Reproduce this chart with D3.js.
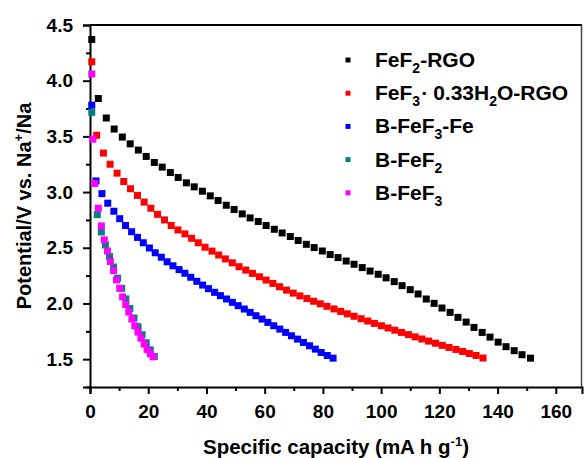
<!DOCTYPE html>
<html>
<head>
<meta charset="utf-8">
<script src="https://cdn.jsdelivr.net/npm/d3@7"></script>
<style>
	body { margin: 0; background: #fff; }
	svg { display: block; font-family: "Liberation Sans", Arial, sans-serif; font-weight: bold; }
</style>
</head>
<body>
<div id="chart"></div>
<script>
// capacity (mA h g-1) and potential (V)
const capFeF2RGO = [0.6, 2.85, 5.6, 8.3, 11.1, 13.8, 16.6, 19.3, 22.1, 24.8, 27.6, 30.3, 33.1, 35.8, 38.6, 41.3, 44.0, 46.8, 49.5, 52.3,
	55.0, 57.8, 60.5, 63.3, 66.0, 68.8, 71.5, 74.3, 77.0, 79.8, 82.5, 85.2, 88.0, 90.7, 93.5, 96.2, 99.0, 101.7, 104.5, 107.2,
	110.0, 112.7, 115.5, 118.2, 120.9, 123.7, 126.4, 129.2, 131.9, 134.7, 137.4, 140.2, 142.9, 145.7, 148.4, 151.3];
const volFeF2RGO = [4.37, 3.84, 3.665, 3.566, 3.494, 3.433, 3.377, 3.32, 3.266, 3.224, 3.176, 3.131, 3.083, 3.047, 3.008, 2.966, 2.924, 2.882, 2.844, 2.804,
	2.768, 2.736, 2.70, 2.666, 2.633, 2.601, 2.565, 2.531, 2.502, 2.471, 2.439, 2.412, 2.381, 2.352, 2.322, 2.291, 2.262, 2.23, 2.196, 2.16,
	2.124, 2.085, 2.04, 2.001, 1.959, 1.92, 1.875, 1.833, 1.785, 1.74, 1.698, 1.653, 1.612, 1.576, 1.54, 1.509];

const capFeF3RGO = [0.6, 2.3, 4.6, 6.9, 9.3, 11.6, 13.9, 16.3, 18.6, 20.9, 23.2, 25.6, 27.9, 30.2, 32.6, 34.9, 37.2, 39.5, 41.9, 44.2,
	46.5, 48.9, 51.2, 53.5, 55.8, 58.2, 60.5, 62.8, 65.1, 67.5, 69.8, 72.1, 74.5, 76.8, 79.1, 81.4, 83.8, 86.1, 88.4, 90.7,
	93.1, 95.4, 97.7, 100.1, 102.4, 104.7, 107.0, 109.4, 111.7, 114.0, 116.3, 118.7, 121.0, 123.3, 125.7, 128.0, 130.3, 132.6, 135.0];
const volFeF3RGO = [4.17, 3.51, 3.35, 3.25, 3.17, 3.095, 3.03, 2.97, 2.91, 2.855, 2.80, 2.75, 2.70, 2.66, 2.625, 2.585, 2.545, 2.505, 2.47, 2.435,
	2.40, 2.365, 2.33, 2.30, 2.27, 2.24, 2.21, 2.18, 2.15, 2.12, 2.093, 2.068, 2.044, 2.02, 1.997, 1.974, 1.951, 1.929, 1.907, 1.885,
	1.863, 1.842, 1.821, 1.80, 1.78, 1.76, 1.74, 1.72, 1.70, 1.681, 1.662, 1.643, 1.624, 1.605, 1.587, 1.569, 1.551, 1.533, 1.51];

const capBFeF3Fe = [0.6, 2.06, 4.1, 6.1, 8.2, 10.2, 12.2, 14.3, 16.3, 18.3, 20.4, 22.4, 24.5, 26.5, 28.5, 30.6, 32.6, 34.6, 36.7, 38.7, 40.7,
	42.8, 44.8, 46.9, 48.9, 50.9, 53.0, 55.0, 57.0, 59.1, 61.1, 63.1, 65.2, 67.2, 69.2, 71.3, 73.3, 75.4, 77.4, 79.4, 81.5, 83.5];
const volBFeF3Fe = [3.78, 3.10, 2.986, 2.90, 2.828, 2.761, 2.70, 2.644, 2.593, 2.545, 2.498, 2.455, 2.415, 2.374, 2.338, 2.304, 2.271, 2.235, 2.199, 2.165, 2.133,
	2.10, 2.07, 2.04, 2.01, 1.98, 1.95, 1.92, 1.89, 1.86, 1.83, 1.80, 1.77, 1.74, 1.71, 1.68, 1.65, 1.62, 1.59, 1.56, 1.533, 1.509];

const capBFeF2 = [0.6, 2.5, 3.9, 5.3, 6.7, 8.1, 9.5, 10.9, 12.3, 13.7, 15.1, 16.5, 17.9, 19.3, 20.7, 22.1];
const volBFeF2 = [3.716, 2.797, 2.642, 2.525, 2.422, 2.327, 2.227, 2.136, 2.041, 1.954, 1.87, 1.791, 1.719, 1.647, 1.583, 1.524];

const capBFeF3 = [0.6, 1.0, 1.6, 2.85, 3.9, 4.9, 6.0, 7.0, 8.1, 9.1, 10.2, 11.2, 12.3, 13.3, 14.4, 15.4, 16.5, 17.5, 18.6, 19.6, 20.7, 21.7];
const volBFeF3 = [4.06, 3.475, 3.077, 2.855, 2.696, 2.571, 2.471, 2.377, 2.295, 2.212, 2.136, 2.059, 1.99, 1.923, 1.86, 1.799, 1.743, 1.688, 1.635, 1.587, 1.549, 1.521];

const xTicks = [0, 20, 40, 60, 80, 100, 120, 140, 160];
const yTicks = [1.5, 2.0, 2.5, 3.0, 3.5, 4.0, 4.5];

// legend names as pieces: [text, kind, dx]
const series = [
	{name: [['FeF', ''], ['2', 'sub'], ['-RGO', '']], cap: capFeF2RGO, vol: volFeF2RGO, color: '#000000'},
	{name: [['FeF', ''], ['3', 'sub'], ['\u00b7', '', 1], ['0.33H', '', 5], ['2', 'sub'], ['O-RGO', '']], cap: capFeF3RGO, vol: volFeF3RGO, color: '#ff0000'},
	{name: [['B-FeF', ''], ['3', 'sub'], ['-Fe', '']], cap: capBFeF3Fe, vol: volBFeF3Fe, color: '#0000ff'},
	{name: [['B-FeF', ''], ['2', 'sub']], cap: capBFeF2, vol: volBFeF2, color: '#008080'},
	{name: [['B-FeF', ''], ['3', 'sub']], cap: capBFeF3, vol: volBFeF3, color: '#ff00ff'}
];

let margin = {top: 25, right: 2, bottom: 71, left: 90},
	width  = 584,
	height = 458,
	iw     = width - margin.left - margin.right,
	ih     = height - margin.top - margin.bottom,
	mark   = 7;

let svg = d3.select('#chart').append('svg')
	.attr('width', width)
	.attr('height', height);

let g = svg.append('g').attr('transform', `translate(${margin.left}, ${margin.top})`);

let x = d3.scaleLinear().domain([0, 169]).range([0, iw]),
	y = d3.scaleLinear().domain([1.25, 4.5]).range([ih, 0]);

// minor ticks first, majors drawn over them
g.append('g')
	.attr('transform', `translate(0, ${ih})`)
	.call(d3.axisBottom(x).tickValues(d3.range(10, 170, 20)).tickSize(4).tickFormat(''))
	.call(a => a.select('.domain').remove());
g.append('g')
	.call(d3.axisLeft(y).tickValues(d3.range(1.25, 4.5, 0.5)).tickSize(4).tickFormat(''))
	.call(a => a.select('.domain').remove());

let xAxis = g.append('g')
	.attr('transform', `translate(0, ${ih})`)
	.call(d3.axisBottom(x).tickValues(xTicks).tickSize(7).tickPadding(11).tickFormat(d3.format('d')));
let yAxis = g.append('g')
	.call(d3.axisLeft(y).tickValues(yTicks).tickSize(7).tickPadding(10).tickFormat(d3.format('.1f')));

[xAxis, yAxis].forEach(a => {
	a.selectAll('text').style('font-size', '19px').style('font-weight', 'bold').attr('fill', '#000');
	a.select('.domain').attr('stroke-width', 2);
});
g.selectAll('.tick line').attr('stroke', '#000').attr('stroke-width', 2);

// top and right frame
g.append('line').attr('x1', 0).attr('x2', iw).attr('y1', 0).attr('y2', 0)
	.attr('stroke', '#000').attr('stroke-width', 2);
g.append('line').attr('x1', iw - 0.5).attr('x2', iw - 0.5).attr('y1', 0).attr('y2', ih)
	.attr('stroke', '#444').attr('stroke-width', 1.5);

// markers
series.forEach(s => {
	g.append('g').selectAll('rect')
		.data(s.cap.map((c, i) => [c, s.vol[i]]))
		.enter().append('rect')
		.attr('x', d => x(d[0]) - mark / 2)
		.attr('y', d => y(d[1]) - mark / 2)
		.attr('width', mark)
		.attr('height', mark)
		.attr('fill', s.color);
});

// legend
let legend = g.append('g').attr('transform', 'translate(258, 35)');
series.forEach((s, i) => {
	let row = legend.append('g').attr('transform', `translate(0, ${i * 33.2})`);
	row.append('rect').attr('x', -2.5).attr('y', -2.5).attr('width', 5).attr('height', 5).attr('fill', s.color);
	let t = row.append('text').attr('x', 27).attr('y', 7).style('font-size', '21px');
	let shift = 0;
	s.name.forEach(p => {
		let ts = t.append('tspan').text(p[0]);
		if (p[1] === 'sub') {
			ts.attr('dy', 6 - shift).style('font-size', '14px');
			shift = 6;
		} else {
			ts.attr('dy', -shift).attr('dx', p[2] || 0);
			shift = 0;
		}
	});
});

// axis titles
let xt = svg.append('text')
	.attr('x', margin.left + iw / 2)
	.attr('y', 454)
	.attr('text-anchor', 'middle')
	.style('font-size', '20.5px');
xt.append('tspan').text('Specific capacity (mA h g');
xt.append('tspan').attr('dy', -8).style('font-size', '13px').text('-1');
xt.append('tspan').attr('dy', 8).text(')');

let yt = svg.append('text')
	.attr('transform', `translate(31, ${margin.top + ih / 2}) rotate(-90)`)
	.attr('text-anchor', 'middle')
	.style('font-size', '20px');
yt.append('tspan').text('Potential/V vs. Na');
yt.append('tspan').attr('dy', -8).style('font-size', '13px').text('+');
yt.append('tspan').attr('dy', 8).text('/Na');
</script>
</body>
</html>
